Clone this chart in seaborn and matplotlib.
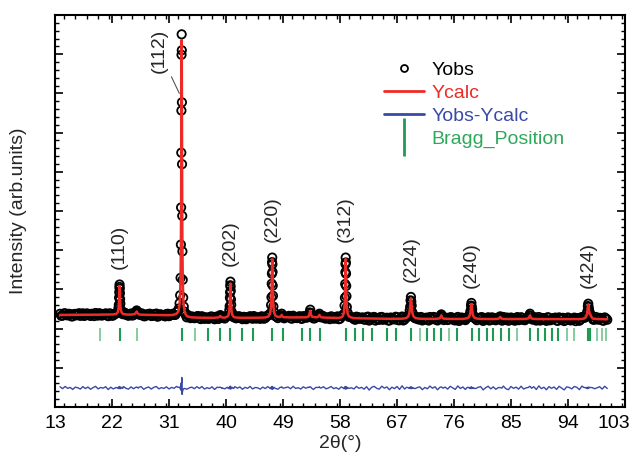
import numpy as np
import pandas as pd
import matplotlib
matplotlib.use("Agg")
import matplotlib.pyplot as plt
import seaborn as sns
from matplotlib.lines import Line2D
from matplotlib.ticker import MultipleLocator, FixedLocator
from matplotlib.transforms import ScaledTranslation

# BACKGROUND POINTS (2theta, observed, calculated)
bg_x = [13.8, 14.2, 14.6, 15.0, 15.4, 15.8, 16.2, 16.6, 17.0, 17.4,
        17.8, 18.2, 18.6, 19.0, 19.4, 19.8, 20.2, 20.6, 21.0, 21.4,
        21.8, 22.2, 22.6, 23.8, 24.2, 24.6, 25.0, 25.4, 26.2, 26.6,
        27.0, 27.4, 27.8, 28.2, 28.6, 29.0, 29.4, 29.8, 30.2, 30.6,
        31.0, 31.4, 31.8, 32.2, 33.8, 34.2, 34.6, 35.0, 35.4, 35.8,
        36.2, 36.6, 37.0, 37.4, 37.8, 38.2, 38.6, 39.4, 39.8, 41.4,
        41.8, 42.2, 42.6, 43.0, 43.4, 43.8, 44.2, 44.6, 45.0, 45.4,
        45.8, 46.2, 46.6, 48.2, 49.4, 49.8, 50.2, 50.6, 51.0, 51.4,
        51.8, 52.2, 52.6, 53.0, 53.8, 54.2, 55.4, 55.8, 56.2, 56.6,
        57.0, 57.4, 57.8, 58.2, 59.8, 60.2, 60.6, 61.0, 61.4, 61.8,
        62.2, 62.6, 63.0, 63.4, 63.8, 64.2, 64.6, 65.0, 65.4, 65.8,
        66.2, 66.6, 67.0, 67.4, 67.8, 68.2, 70.2, 70.6, 71.0, 71.4,
        71.8, 72.2, 72.6, 73.0, 73.4, 74.6, 75.0, 75.4, 75.8, 76.2,
        76.6, 77.0, 77.4, 77.8, 79.8, 80.2, 80.6, 81.0, 81.4, 81.8,
        82.2, 82.6, 83.0, 83.8, 84.2, 84.6, 85.0, 85.4, 85.8, 86.2,
        86.6, 87.0, 87.4, 88.6, 89.0, 89.4, 89.8, 90.2, 90.6, 91.0,
        91.4, 91.8, 92.2, 92.6, 93.0, 93.4, 93.8, 94.2, 94.6, 95.0,
        95.4, 95.8, 96.2, 98.2, 98.6, 99.0, 99.4, 99.8, 100.2]
bg_obs = [1510, 1325, 1560, 1360, 1465, 1255, 1500, 1430, 1300, 1555,
          1355, 1515, 1290, 1450, 1590, 1330, 1475, 1405, 1555, 1270,
          1515, 1345, 1525, 1630, 1415, 1310, 1540, 1380, 1520, 1560,
          1270, 1425, 1500, 1285, 1460, 1535, 1290, 1415, 1320, 1485,
          1270, 1445, 1390, 1690, 1150, 1200, 1240, 1060, 1250, 1075,
          1260, 995, 1130, 1040, 1220, 955, 1210, 1140, 1030, 1290,
          1095, 1215, 960, 1170, 1060, 1265, 1005, 1160, 1130, 995,
          1210, 1080, 1350, 1070, 1200, 1240, 1060, 1315, 1095, 1175,
          1035, 1265, 1130, 1280, 1040, 1210, 1260, 1030, 1120, 1250,
          1020, 1125, 960, 1260, 1150, 970, 1215, 1010, 1115, 920,
          1165, 820, 1090, 1190, 975, 895, 1190, 990, 1110, 820,
          1080, 935, 1155, 855, 1230, 935, 1080, 1125, 830, 1045,
          915, 1185, 965, 1120, 830, 1095, 875, 1155, 1000, 840,
          1190, 930, 1090, 865, 1075, 1130, 785, 1000, 1155, 885,
          1090, 850, 1040, 1185, 895, 805, 1130, 935, 1065, 860,
          1155, 875, 1015, 1125, 820, 1180, 905, 1050, 790, 1115,
          930, 1075, 830, 1145, 955, 770, 1080, 1015, 875, 1120,
          1030, 800, 1185, 920, 1000, 1095, 845, 1140, 905]
bg_calc = [1390, 1395, 1400, 1400, 1405, 1405, 1410, 1410, 1410, 1415,
           1415, 1415, 1420, 1420, 1420, 1420, 1425, 1425, 1425, 1430,
           1435, 1445, 1485, 1480, 1445, 1430, 1430, 1460, 1460, 1420,
           1410, 1405, 1400, 1395, 1390, 1385, 1380, 1375, 1370, 1365,
           1370, 1385, 1420, 1530, 1280, 1190, 1150, 1130, 1120, 1115,
           1110, 1105, 1100, 1100, 1100, 1105, 1130, 1130, 1120, 1150,
           1115, 1105, 1100, 1100, 1100, 1105, 1105, 1110, 1110, 1115,
           1120, 1140, 1210, 1200, 1160, 1140, 1140, 1145, 1145, 1145,
           1145, 1145, 1150, 1200, 1190, 1150, 1130, 1120, 1110, 1100,
           1090, 1085, 1090, 1150, 1130, 1070, 1055, 1050, 1045, 1040,
           1035, 1030, 1025, 1020, 1015, 1010, 1010, 1005, 1005, 1000,
           1000, 1000, 1000, 1000, 1010, 1040, 1040, 1010, 1000, 995,
           995, 990, 990, 990, 1010, 1005, 990, 985, 985, 985,
           980, 980, 985, 1020, 1010, 985, 980, 975, 975, 975,
           975, 980, 1000, 990, 975, 975, 975, 975, 975, 975,
           975, 980, 1000, 995, 975, 970, 970, 970, 970, 970,
           970, 970, 975, 975, 970, 965, 965, 965, 965, 965,
           965, 970, 990, 1000, 975, 965, 960, 960, 955]

# extra observed background steps (between the ones above)
bg2_x = [14.0, 14.4, 14.8, 15.2, 15.6, 16.0, 16.4, 16.8, 17.2, 17.6,
         18.0, 18.4, 18.8, 19.2, 19.6, 20.0, 20.4, 20.8, 21.2, 21.6,
         22.0, 22.4, 24.0, 24.4, 24.8, 25.2, 25.6, 26.4, 26.8, 27.2,
         27.6, 28.0, 28.4, 28.8, 29.2, 29.6, 30.0, 30.4, 30.8, 31.2,
         31.6, 32.0, 34.0, 34.4, 34.8, 35.2, 35.6, 36.0, 36.4, 36.8,
         37.2, 37.6, 38.0, 38.4, 38.8, 39.6, 40.0, 41.6, 42.0, 42.4,
         42.8, 43.2, 43.6, 44.0, 44.4, 44.8, 45.2, 45.6, 46.0, 46.4,
         48.0, 48.4, 49.2, 49.6, 50.0, 50.4, 50.8, 51.2, 51.6, 52.0,
         52.4, 52.8, 53.6, 54.0, 54.4, 55.2, 55.6, 56.0, 56.4, 56.8,
         57.2, 57.6, 58.0, 59.6, 60.0, 60.4, 60.8, 61.2, 61.6, 62.0,
         62.4, 62.8, 63.2, 63.6, 64.0, 64.4, 64.8, 65.2, 65.6, 66.0,
         66.4, 66.8, 67.2, 67.6, 68.0, 68.4, 70.0, 70.4, 70.8, 71.2,
         71.6, 72.0, 72.4, 72.8, 73.2, 73.6, 74.4, 74.8, 75.2, 75.6,
         76.0, 76.4, 76.8, 77.2, 77.6, 78.0, 79.6, 80.0, 80.4, 80.8,
         81.2, 81.6, 82.0, 82.4, 82.8, 83.6, 84.0, 84.4, 84.8, 85.2,
         85.6, 86.0, 86.4, 86.8, 87.2, 87.6, 88.4, 88.8, 89.2, 89.6,
         90.0, 90.4, 90.8, 91.2, 91.6, 92.0, 92.4, 92.8, 93.2, 93.6,
         94.0, 94.4, 94.8, 95.2, 95.6, 96.0, 96.4, 98.0, 98.4, 98.8,
         99.2, 99.6, 100.0]
bg2_obs = [1302, 1538, 1370, 1512, 1245, 1478, 1360, 1570, 1422, 1295,
           1545, 1398, 1510, 1280, 1460, 1572, 1325, 1485, 1358, 1552,
           1310, 1510, 1630, 1375, 1450, 1330, 1630, 1400, 1515, 1258,
           1432, 1518, 1302, 1448, 1212, 1458, 1382, 1248, 1516, 1345,
           1510, 1400, 1370, 1070, 1190, 1105, 1278, 972, 1178, 1122,
           990, 1230, 1052, 1202, 980, 1165, 1260, 1050, 1260, 1082,
           1200, 960, 1162, 1075, 1278, 1020, 1132, 1248, 1008, 1245,
           1200, 1310, 1050, 1200, 1300, 1012, 1175, 1075, 1265, 995,
           1238, 1125, 1320, 1045, 1220, 1290, 1045, 1135, 965, 1195,
           1038, 1246, 1000, 1250, 1100, 900, 1182, 1018, 1132, 918,
           1222, 968, 1142, 818, 1052, 1170, 898, 1075, 832, 1130,
           980, 1210, 860, 1094, 830, 1115, 1210, 930, 1185, 938,
           1115, 822, 1050, 1190, 895, 1060, 870, 1105, 948, 1155,
           865, 1062, 780, 1122, 965, 1140, 855, 1055, 1172, 898,
           1015, 825, 1145, 918, 1098, 810, 1000, 1125, 865, 1055,
           805, 1175, 935, 1098, 858, 1080, 920, 1160, 952, 820,
           1080, 910, 1160, 850, 1020, 1122, 795, 1002, 1098, 875,
           1135, 835, 1025, 765, 1068, 940, 1160, 900, 1185, 910,
           1082, 800, 1038]

# MAIN REFLECTIONS
p110_x = [22.7, 22.9, 23.02, 23.08, 23.12, 23.15, 23.175, 23.2, 23.225, 23.25, 23.28, 23.32, 23.38, 23.5, 23.7]
p110_obs = [1560, 1640, 2080, 2420, 3150, 3720, 4250, 4500, 4080, 3600, 3000, 2550, 1950, 1720, 1470]
p110_calc = [1511, 1663, 2006, 2475, 3058, 3659, 4139, 4350, 4139, 3659, 3058, 2475, 2006, 1663, 1511]

p112_x = [32.4, 32.55, 32.67, 32.76, 32.83, 32.88, 32.91, 32.94, 32.96, 32.98, 33.0,
          33.02, 33.04, 33.06, 33.09, 33.12, 33.17, 33.24, 33.33, 33.45, 33.6]
p112_obs = [1750, 2050, 2600, 3400, 5180, 8570, 12360, 17950, 22250, 27940, 30030,
            28400, 23090, 16780, 11500, 7880, 4980, 3160, 2250, 1740, 1430]
p112_calc = [1680, 1970, 2520, 3460, 5330, 8410, 11880, 17500, 22540, 27370, 29460,
             27330, 22480, 17430, 11820, 8320, 5230, 3320, 2320, 1790, 1500]

p202_x = [40.2, 40.4, 40.52, 40.58, 40.62, 40.65, 40.675, 40.7, 40.725, 40.75, 40.78, 40.82, 40.88, 41.0, 41.2]
p202_obs = [1280, 1330, 1880, 2290, 3150, 3700, 4420, 4790, 4280, 3850, 2980, 2430, 1740, 1450, 1160]
p202_calc = [1209, 1391, 1800, 2360, 3057, 3774, 4348, 4600, 4348, 3774, 3057, 2360, 1800, 1391, 1209]

p220_x = [46.8, 47.0, 47.12, 47.18, 47.22, 47.25, 47.275, 47.3, 47.325, 47.35, 47.38, 47.42, 47.48, 47.6, 47.8]
p220_obs = [1360, 1560, 2400, 3200, 4580, 5600, 6780, 7250, 6560, 5780, 4380, 3350, 2260, 1690, 1270]
p220_calc = [1315, 1626, 2324, 3279, 4467, 5691, 6670, 7100, 6670, 5691, 4467, 3279, 2324, 1626, 1315]

p312_x = [58.4, 58.6, 58.72, 58.78, 58.82, 58.85, 58.875, 58.9, 58.925, 58.95, 58.98, 59.02, 59.08, 59.2, 59.4]
p312_obs = [1290, 1500, 2350, 3150, 4550, 5760, 6580, 7250, 6750, 5600, 4350, 3310, 2200, 1620, 1200]
p312_calc = [1247, 1561, 2268, 3234, 4436, 5675, 6665, 7100, 6665, 5675, 4436, 3234, 2268, 1561, 1247]

p224_x = [68.5, 68.75, 68.9, 69.0, 69.08, 69.14, 69.2, 69.26, 69.32, 69.4, 69.5, 69.65, 69.9]
p224_obs = [1150, 1260, 1380, 1820, 2220, 2880, 3230, 2750, 2350, 1700, 1470, 1170, 1040]
p224_calc = [1092, 1210, 1420, 1756, 2281, 2810, 3100, 2810, 2281, 1756, 1420, 1210, 1092]

p240_x = [78.05, 78.3, 78.45, 78.55, 78.63, 78.69, 78.75, 78.81, 78.87, 78.95, 79.05, 79.2, 79.45]
p240_obs = [1100, 1190, 1250, 1600, 1850, 2350, 2620, 2230, 1960, 1480, 1330, 1080, 1000]
p240_calc = [1047, 1132, 1284, 1527, 1907, 2290, 2500, 2290, 1907, 1527, 1284, 1132, 1047]

p424_x = [96.5, 96.75, 96.9, 97.0, 97.08, 97.14, 97.2, 97.26, 97.32, 97.4, 97.5, 97.65, 97.9]
p424_obs = [1080, 1150, 1230, 1560, 1800, 2300, 2540, 2200, 1930, 1560, 1550, 1300, 1050]
p424_calc = [1026, 1109, 1258, 1496, 1869, 2244, 2450, 2244, 1869, 1496, 1500, 1250, 1026]

# WEAK REFLECTIONS
weak_x = [25.65, 25.8, 25.9, 26.0, 26.15, 38.85, 39.0, 39.1, 39.2, 39.35,
          48.55, 48.7, 48.8, 48.9, 49.05, 53.05, 53.2, 53.3, 53.4, 53.55,
          54.5, 54.65, 54.75, 54.85, 55.0, 73.75, 73.9, 74.0, 74.1, 74.25,
          83.05, 83.2, 83.3, 83.4, 83.55, 87.75, 87.9, 88.0, 88.1, 88.25]
weak_obs = [1550, 1700, 1850, 1650, 1480, 1200, 1300, 1380, 1250, 1100,
            1250, 1350, 1520, 1300, 1150, 1300, 1650, 1930, 1580, 1200,
            1230, 1380, 1520, 1300, 1150, 1100, 1300, 1450, 1250, 1020,
            1080, 1150, 1250, 1120, 990, 1100, 1350, 1520, 1280, 1000]
weak_calc = [1520, 1620, 1750, 1600, 1500, 1150, 1220, 1300, 1210, 1140,
             1180, 1280, 1400, 1270, 1170, 1250, 1550, 1800, 1500, 1230,
             1180, 1300, 1400, 1280, 1160, 1050, 1200, 1350, 1180, 1040,
             1020, 1100, 1200, 1090, 1010, 1040, 1200, 1350, 1180, 1030]

# BRAGG POSITIONS
bragg_main = [23.2, 33.0, 37.1, 39.1, 40.7, 42.6, 44.2, 47.3, 49.0, 52.0, 53.3, 54.8,
              58.9, 60.4, 61.7, 63.0, 65.5, 66.8, 69.2, 71.7, 72.9, 74.0, 76.5,
              78.8, 80.0, 81.2, 82.2, 83.4, 84.7, 88.0, 89.2, 90.4, 91.5, 92.5,
              97.2, 97.5]
bragg_faint = [20.1, 26.0, 35.1, 70.6, 75.2, 85.9, 93.8, 95.0, 98.6, 99.4, 100.0]

hkl_names = ["(110)", "(202)", "(220)", "(312)", "(224)", "(240)", "(424)"]
hkl_pos = [23.2, 40.7, 47.3, 58.9, 69.2, 78.75, 97.2]

x_ticks = [13, 22, 31, 40, 49, 58, 67, 76, 85, 94, 103]
diff_offset = -6060

red = "#EC2B27"
blue = "#3B49A6"
green = "#1E9A55"

# BUILD TABLES
two_theta = np.concatenate([bg_x, p110_x, p112_x, p202_x, p220_x, p312_x, p224_x, p240_x, p424_x, weak_x])
y_obs = np.concatenate([bg_obs, p110_obs, p112_obs, p202_obs, p220_obs, p312_obs, p224_obs, p240_obs, p424_obs, weak_obs])
y_calc = np.concatenate([bg_calc, p110_calc, p112_calc, p202_calc, p220_calc, p312_calc, p224_calc, p240_calc, p424_calc, weak_calc])
df = pd.DataFrame({"two_theta": two_theta, "Yobs": y_obs, "Ycalc": y_calc})
df = df.sort_values("two_theta").reset_index(drop=True)
df["diff"] = df["Yobs"] - df["Ycalc"] + diff_offset

obs_all = pd.concat([df[["two_theta", "Yobs"]],
                     pd.DataFrame({"two_theta": bg2_x, "Yobs": bg2_obs})]).sort_values("two_theta")

sns.set_theme(style="ticks")
plt.rcParams["font.family"] = ["Liberation Sans", "DejaVu Sans"]

fig, ax = plt.subplots(figsize=(6.38, 4.59), dpi=100)
fig.subplots_adjust(left=0.0862, right=0.9796, bottom=0.1133, top=0.9673)

sns.scatterplot(data=obs_all, x="two_theta", y="Yobs", ax=ax, marker="o", s=36,
                facecolor="none", edgecolor="black", linewidth=1.3, zorder=2, legend=False)
sns.lineplot(data=df, x="two_theta", y="Ycalc", ax=ax, color=red, lw=1.8,
             estimator=None, sort=False, zorder=3)
sns.lineplot(data=df, x="two_theta", y="diff", ax=ax, color=blue, lw=1.0,
             estimator=None, sort=False, zorder=3)
ax.vlines(bragg_main, -1265, 90, color=green, lw=1.5)
ax.vlines(bragg_faint, -1265, 90, color="#7CC99A", lw=1.3)

# hkl labels
for name, pos in zip(hkl_names, hkl_pos):
    top = df.loc[(df["two_theta"] - pos).abs() < 0.3, "Yobs"].max()
    ax.annotate(name, xy=(pos, top), xytext=(0, 11), textcoords="offset points",
                rotation=90, ha="center", va="bottom", fontsize=14)
ax.annotate("(112)", xy=(32.63, 24000), xytext=(-14.6, 30.8), textcoords="offset points",
            rotation=90, ha="center", va="center", fontsize=14,
            arrowprops=dict(arrowstyle="-", color="#555555", lw=0.8, shrinkA=1, shrinkB=0))

ax.set_xlim(13, 103)
ax.set_ylim(-8000, 32000)
ax.xaxis.set_major_locator(FixedLocator(x_ticks))
ax.xaxis.set_minor_locator(MultipleLocator(1.8))
ax.yaxis.set_major_locator(MultipleLocator(4000))
ax.yaxis.set_minor_locator(MultipleLocator(800))
ax.tick_params(which="both", direction="in", top=True, right=True, labelleft=False,
               colors="black")
ax.tick_params(which="major", length=6, width=1.2, labelsize=14, pad=6)
ax.tick_params(which="minor", length=3, width=1.0)
for sp in ax.spines.values():
    sp.set_linewidth(1.5)
    sp.set_color("black")

# last tick label sits a bit left so it stays inside the figure
last = ax.get_xticklabels()[-1]
last.set_transform(last.get_transform() + ScaledTranslation(-8 / 72, 0, fig.dpi_scale_trans))

ax.set_xlabel("2θ(°)", fontsize=14, labelpad=2)
ax.set_ylabel("Intensity (arb.units)", fontsize=14, labelpad=20)

handles = [Line2D([], [], ls="none", marker="o", mfc="none", mec="black", ms=5, mew=1.3),
           Line2D([], [], color=red, lw=2),
           Line2D([], [], color=blue, lw=2),
           Line2D([], [], ls="none", marker="|", color=green, ms=28, mew=2)]
labels = ["Yobs", "Ycalc", "Yobs-Ycalc", "Bragg_Position"]
leg = ax.legend(handles, labels, loc="upper left", bbox_to_anchor=(0.577, 0.882),
                frameon=False, fontsize=14, handlelength=2.06, handletextpad=0.4,
                labelspacing=0.27, borderpad=0, borderaxespad=0)
for t, c in zip(leg.get_texts(), ["black", red, blue, "#2EA85A"]):
    t.set_color(c)

fig.savefig("out.png", dpi=100)
